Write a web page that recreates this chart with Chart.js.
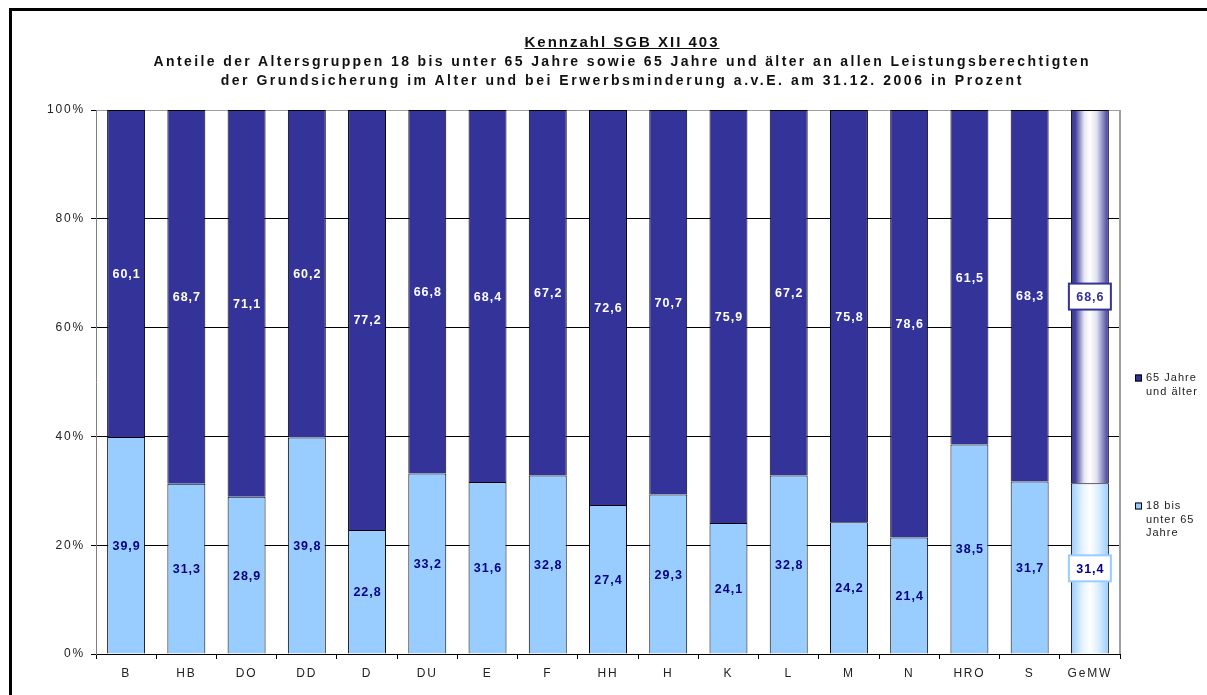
<!DOCTYPE html>
<html lang="de">
<head>
<meta charset="utf-8">
<title>Kennzahl SGB XII 403</title>
<script src="https://cdn.jsdelivr.net/npm/chart.js@4/dist/chart.umd.min.js"></script>
<style>
  html, body { margin: 0; padding: 0; background: #fff; overflow: hidden; }
  #wrap { position: relative; width: 1207px; height: 695px; }
  #frame {
    position: absolute; left: 9px; top: 8px; width: 1400px; height: 900px;
    border: 3px solid #000; pointer-events: none; box-sizing: border-box;
  }
  #title {
    position: absolute; left: 0; width: 1242px; top: 31px;
    text-align: center; font-family: "Liberation Sans", Arial, sans-serif;
    font-weight: 700; color: #111;
  }
  #title span { white-space: nowrap; }
  #title .l1 { font-size: 15px; text-decoration: underline; line-height: 21px; }
  #title .l2 { font-size: 14px; line-height: 19px; }
  canvas { position: absolute; left: 0; top: 0; }
</style>
</head>
<body>
<div id="wrap">
  <canvas id="chart" width="1207" height="695"></canvas>
  <div id="title">
    <div class="l1"><span data-w="195">Kennzahl SGB XII 403</span></div>
    <div class="l2"><span data-w="937">Anteile der Altersgruppen 18 bis unter 65 Jahre sowie 65 Jahre und älter an allen Leistungsberechtigten</span></div>
    <div class="l2"><span data-w="803">der Grundsicherung im Alter und bei Erwerbsminderung a.v.E. am 31.12. 2006 in Prozent</span></div>
  </div>
  <div id="frame"></div>
</div>
<script>
const categories = ['B', 'HB', 'DO', 'DD', 'D', 'DU', 'E', 'F', 'HH', 'H', 'K', 'L', 'M', 'N', 'HRO', 'S', 'GeMW'];
const under65 = [39.9, 31.3, 28.9, 39.8, 22.8, 33.2, 31.6, 32.8, 27.4, 29.3, 24.1, 32.8, 24.2, 21.4, 38.5, 31.7, 31.4];
const over65 = [60.1, 68.7, 71.1, 60.2, 77.2, 66.8, 68.4, 67.2, 72.6, 70.7, 75.9, 67.2, 75.8, 78.6, 61.5, 68.3, 68.6];
const seriesNames = [['65 Jahre', 'und älter'], ['18 bis', 'unter 65', 'Jahre']];
const yTicks = [0, 20, 40, 60, 80, 100];

const DARK = '#333399';
const LIGHT = '#99ccff';
const FONT = '"Liberation Sans", Arial, sans-serif';
const BAR_PCT = 0.63;
const avgIndex = categories.length - 1;

// stretch title lines to the width they have in the original
document.querySelectorAll('#title span').forEach((el) => {
  const target = Number(el.dataset.w);
  const natural = el.getBoundingClientRect().width;
  const n = el.textContent.length;
  const sp = Math.max(0, (target - natural) / n);
  el.style.letterSpacing = sp.toFixed(2) + 'px';
  el.style.marginRight = (-sp).toFixed(2) + 'px';
});

function fmt(v) {
  return v.toFixed(1).replace('.', ',');
}

// GeMW bar gets a horizontal shine gradient
function barFill(base, stops) {
  return (ctx) => {
    const chart = ctx.chart;
    if (ctx.dataIndex !== avgIndex) return base;
    if (!chart.chartArea) return base;
    const xs = chart.scales.x;
    const cx = xs.getPixelForValue(ctx.dataIndex);
    const half = (xs.width / categories.length) * BAR_PCT / 2;
    const g = chart.ctx.createLinearGradient(cx - half, 0, cx + half, 0);
    stops.forEach(([p, c]) => g.addColorStop(p, c));
    return g;
  };
}

const labelPlugin = {
  id: 'segLabels',
  beforeDraw(chart) {
    chart.ctx.letterSpacing = '1.8px';
  },
  beforeDatasetsDraw(chart) {
    const { ctx, chartArea } = chart;
    ctx.save();
    ctx.strokeStyle = '#a0a0a0';
    ctx.lineWidth = 2;
    ctx.beginPath();
    ctx.moveTo(chartArea.right, chartArea.top);
    ctx.lineTo(chartArea.right, chartArea.bottom);
    ctx.stroke();
    ctx.restore();
  },
  afterDatasetsDraw(chart) {
    const { ctx } = chart;
    ctx.save();
    ctx.font = 'bold 12.5px ' + FONT;
    ctx.textAlign = 'center';
    ctx.textBaseline = 'middle';
    ctx.letterSpacing = '1px';
    chart.data.datasets.forEach((ds, di) => {
      const meta = chart.getDatasetMeta(di);
      meta.data.forEach((bar, i) => {
        const y = (bar.y + bar.base) / 2;
        const txt = fmt(ds.data[i]);
        const isTop = di === 1;
        if (i === avgIndex) {
          ctx.fillStyle = '#fff';
          ctx.strokeStyle = isTop ? DARK : LIGHT;
          ctx.lineWidth = 2;
          ctx.fillRect(bar.x - 21, y - 13, 42, 26);
          ctx.strokeRect(bar.x - 21, y - 13, 42, 26);
          ctx.fillStyle = isTop ? DARK : '#000080';
        } else {
          ctx.fillStyle = isTop ? '#fff' : '#000080';
        }
        ctx.fillText(txt, bar.x + 0.5, y + 1);
      });
    });
    ctx.restore();
  },
  afterDraw(chart) {
    const { ctx } = chart;
    ctx.save();
    ctx.font = '11px ' + FONT;
    ctx.textBaseline = 'middle';
    ctx.letterSpacing = '1px';
    const items = [
      { lines: seriesNames[0], color: DARK, y: 378 },
      { lines: seriesNames[1], color: LIGHT, y: 506 }
    ];
    items.forEach((it) => {
      ctx.fillStyle = it.color;
      ctx.fillRect(1135, it.y - 3.5, 7, 7);
      ctx.strokeStyle = '#000';
      ctx.lineWidth = 1;
      ctx.strokeRect(1135.5, it.y - 3, 6, 6);
      ctx.fillStyle = '#222';
      it.lines.forEach((ln, k) => ctx.fillText(ln, 1146, it.y + k * 13.5));
    });
    ctx.restore();
    ctx.letterSpacing = '0px';
  }
};

new Chart(document.getElementById('chart'), {
  type: 'bar',
  data: {
    labels: categories,
    datasets: [
      {
        label: seriesNames[1].join(' '),
        data: under65,
        backgroundColor: barFill(LIGHT, [[0, '#99ccff'], [0.3, '#e4f2ff'], [0.5, '#ffffff'], [0.72, '#dcefff'], [1, '#99ccff']]),
        borderColor: '#000',
        borderWidth: 1,
        barPercentage: BAR_PCT,
        categoryPercentage: 1
      },
      {
        label: seriesNames[0].join(' '),
        data: over65,
        backgroundColor: barFill(DARK, [[0, '#333399'], [0.12, '#44449f'], [0.35, '#e6e6f2'], [0.5, '#ffffff'], [0.68, '#e0e0f0'], [1, '#383899']]),
        borderColor: '#000',
        borderWidth: 1,
        barPercentage: BAR_PCT,
        categoryPercentage: 1
      }
    ]
  },
  options: {
    responsive: false,
    animation: false,
    layout: { padding: { left: 0, right: 87, top: 110, bottom: 0 } },
    plugins: {
      legend: { display: false },
      tooltip: { enabled: false }
    },
    scales: {
      x: {
        stacked: true,
        grid: { drawOnChartArea: false, drawTicks: true, tickLength: 5, color: '#000', offset: true },
        border: { color: '#000', width: 1 },
        ticks: { color: '#222', font: { family: FONT, size: 12 }, padding: 7, maxRotation: 0, autoSkip: false },
        afterFit(scale) { scale.height = 41; }
      },
      y: {
        stacked: true,
        min: 0,
        max: 100,
        afterBuildTicks(scale) { scale.ticks = yTicks.map((v) => ({ value: v })); },
        grid: {
          color: (c) => (c.tick && c.tick.value === 100 ? '#a0a0a0' : '#000'),
          tickColor: '#000',
          tickLength: 5,
          lineWidth: 1
        },
        border: { color: '#808080', width: 1 },
        ticks: {
          color: '#222',
          font: { family: FONT, size: 12 },
          padding: 6,
          callback: (v) => v + '%'
        },
        afterFit(scale) { scale.width = 96; }
      }
    }
  },
  plugins: [labelPlugin]
});
</script>
</body>
</html>
